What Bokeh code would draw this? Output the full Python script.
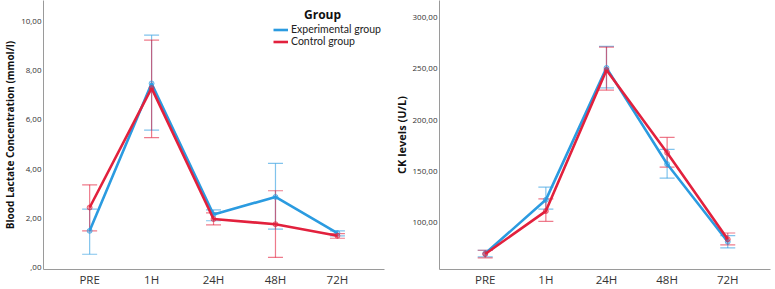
from bokeh.plotting import figure
from bokeh.models import (ColumnDataSource, Whisker, TeeHead, FixedTicker, Legend,
                          LegendItem, Label, Range1d)
from bokeh.layouts import row
from bokeh.embed import file_html
from bokeh.resources import INLINE

# ---------------- data ----------------
timepoints = ["PRE", "1H", "24H", "48H", "72H"]

lac_exp_mean = [1.49, 7.48, 2.15, 2.87, 1.40]
lac_exp_lower = [0.54, 5.58, 1.90, 1.56, 1.29]
lac_exp_upper = [2.37, 9.44, 2.34, 4.23, 1.49]
lac_ctl_mean = [2.44, 7.29, 1.97, 1.76, 1.29]
lac_ctl_lower = [1.49, 5.28, 1.73, 0.41, 1.19]
lac_ctl_upper = [3.36, 9.24, 2.22, 3.12, 1.38]

ck_exp_mean = [69.5, 122.0, 251.0, 157.0, 81.0]
ck_exp_lower = [66.2, 113.0, 231.5, 143.2, 75.0]
ck_exp_upper = [72.7, 134.4, 272.0, 171.4, 87.0]
ck_ctl_mean = [69.0, 111.0, 249.0, 168.0, 83.5]
ck_ctl_lower = [65.3, 101.0, 229.2, 154.0, 78.0]
ck_ctl_upper = [72.7, 123.0, 271.4, 183.0, 89.6]

lac_ticks = [0, 2, 4, 6, 8, 10]
lac_tick_labels = [",00", "2,00", "4,00", "6,00", "8,00", "10,00"]
ck_ticks = [100, 150, 200, 250, 300]
ck_tick_labels = ["100,00", "150,00", "200,00", "250,00", "300,00"]

series_names = ["Experimental group", "Control group"]
BLUE = "#2b9be0"
RED = "#e2213d"
FONT = "Open Sans"
H = 289


def make_fig(width, xr, yr, ylabel, ylabel_size, ticks, tick_labels, series,
             min_left, min_right):
    p = figure(width=width, height=H, output_backend="svg", toolbar_location=None,
               x_range=Range1d(*xr), y_range=Range1d(*yr),
               min_border_left=min_left, min_border_right=min_right,
               min_border_top=0, min_border_bottom=20)
    p.outline_line_color = None
    p.grid.visible = False
    xs = list(range(len(timepoints)))
    # axes
    p.xaxis.ticker = FixedTicker(ticks=xs)
    p.xaxis.major_label_overrides = {i: t for i, t in zip(xs, timepoints)}
    p.yaxis.ticker = FixedTicker(ticks=ticks)
    p.yaxis.major_label_overrides = {t: l for t, l in zip(ticks, tick_labels)}
    for ax in (p.xaxis, p.yaxis):
        ax.axis_line_color = "#9a9a9a"
        ax.major_tick_line_color = None
        ax.minor_tick_line_color = None
        ax.major_tick_out = 0
        ax.major_tick_in = 0
        ax.major_label_text_font = FONT
        ax.major_label_text_color = "#333333"
    p.xaxis.major_label_text_font_size = "11.5px"
    p.xaxis.major_label_standoff = 2
    p.yaxis.major_label_text_font_size = "8px"
    p.yaxis.major_label_standoff = 2
    p.yaxis.axis_label = ylabel
    p.yaxis.axis_label_text_font = FONT
    p.yaxis.axis_label_text_font_style = "bold"
    p.yaxis.axis_label_text_font_size = ylabel_size
    p.yaxis.axis_label_text_color = "#111111"
    p.yaxis.axis_label_standoff = 1

    renderers = []
    for (mean, lower, upper), color in zip(series, [BLUE, RED]):
        src = ColumnDataSource(dict(x=xs, mean=mean, lower=lower, upper=upper))
        w = Whisker(source=src, base="x", upper="upper", lower="lower",
                    line_color=color, line_alpha=0.6, line_width=1.2,
                    upper_head=TeeHead(size=15, line_color=color, line_alpha=0.6, line_width=1.2),
                    lower_head=TeeHead(size=15, line_color=color, line_alpha=0.6, line_width=1.2))
        p.add_layout(w)
        r = p.line("x", "mean", source=src, line_color=color, line_width=2.6)
        p.scatter("x", "mean", source=src, size=5, fill_color=color, fill_alpha=0.4,
                  line_color=color, line_alpha=0.6)
        renderers.append(r)
    return p, renderers


p1, r1 = make_fig(390, (-0.745, 4.76), (-0.08, 10.85),
                  "Blood Lactate Concentration (mmol/l)", "10px",
                  lac_ticks, lac_tick_labels,
                  [(lac_exp_mean, lac_exp_lower, lac_exp_upper),
                   (lac_ctl_mean, lac_ctl_lower, lac_ctl_upper)], 41, 6)

legend = Legend(items=[LegendItem(label=series_names[0], renderers=[r1[0]]),
                       LegendItem(label=series_names[1], renderers=[r1[1]])],
                location=(230, 222))
legend.glyph_width = 15
legend.glyph_height = 11
legend.label_height = 11
legend.spacing = -6
legend.padding = 0
legend.margin = 0
legend.label_standoff = 3
legend.border_line_color = None
legend.background_fill_alpha = 0
legend.label_text_font = "Lato"
legend.label_text_font_size = "10.5px"
legend.label_text_color = "#222222"
p1.add_layout(legend)
p1.add_layout(Label(x=3.76, y=10.28, text="Group", text_align="center",
                    text_baseline="middle", text_font=FONT, text_font_style="bold",
                    text_font_size="12px", text_color="#111111"))

p2, r2 = make_fig(385, (-0.754, 4.705), (53.9, 316.9),
                  "CK levels (U/L)", "11px",
                  ck_ticks, ck_tick_labels,
                  [(ck_exp_mean, ck_exp_lower, ck_exp_upper),
                   (ck_ctl_mean, ck_ctl_lower, ck_ctl_upper)], 45, 5)

layout = row(p1, p2)
open("out.html", "w").write(file_html(layout, INLINE))
